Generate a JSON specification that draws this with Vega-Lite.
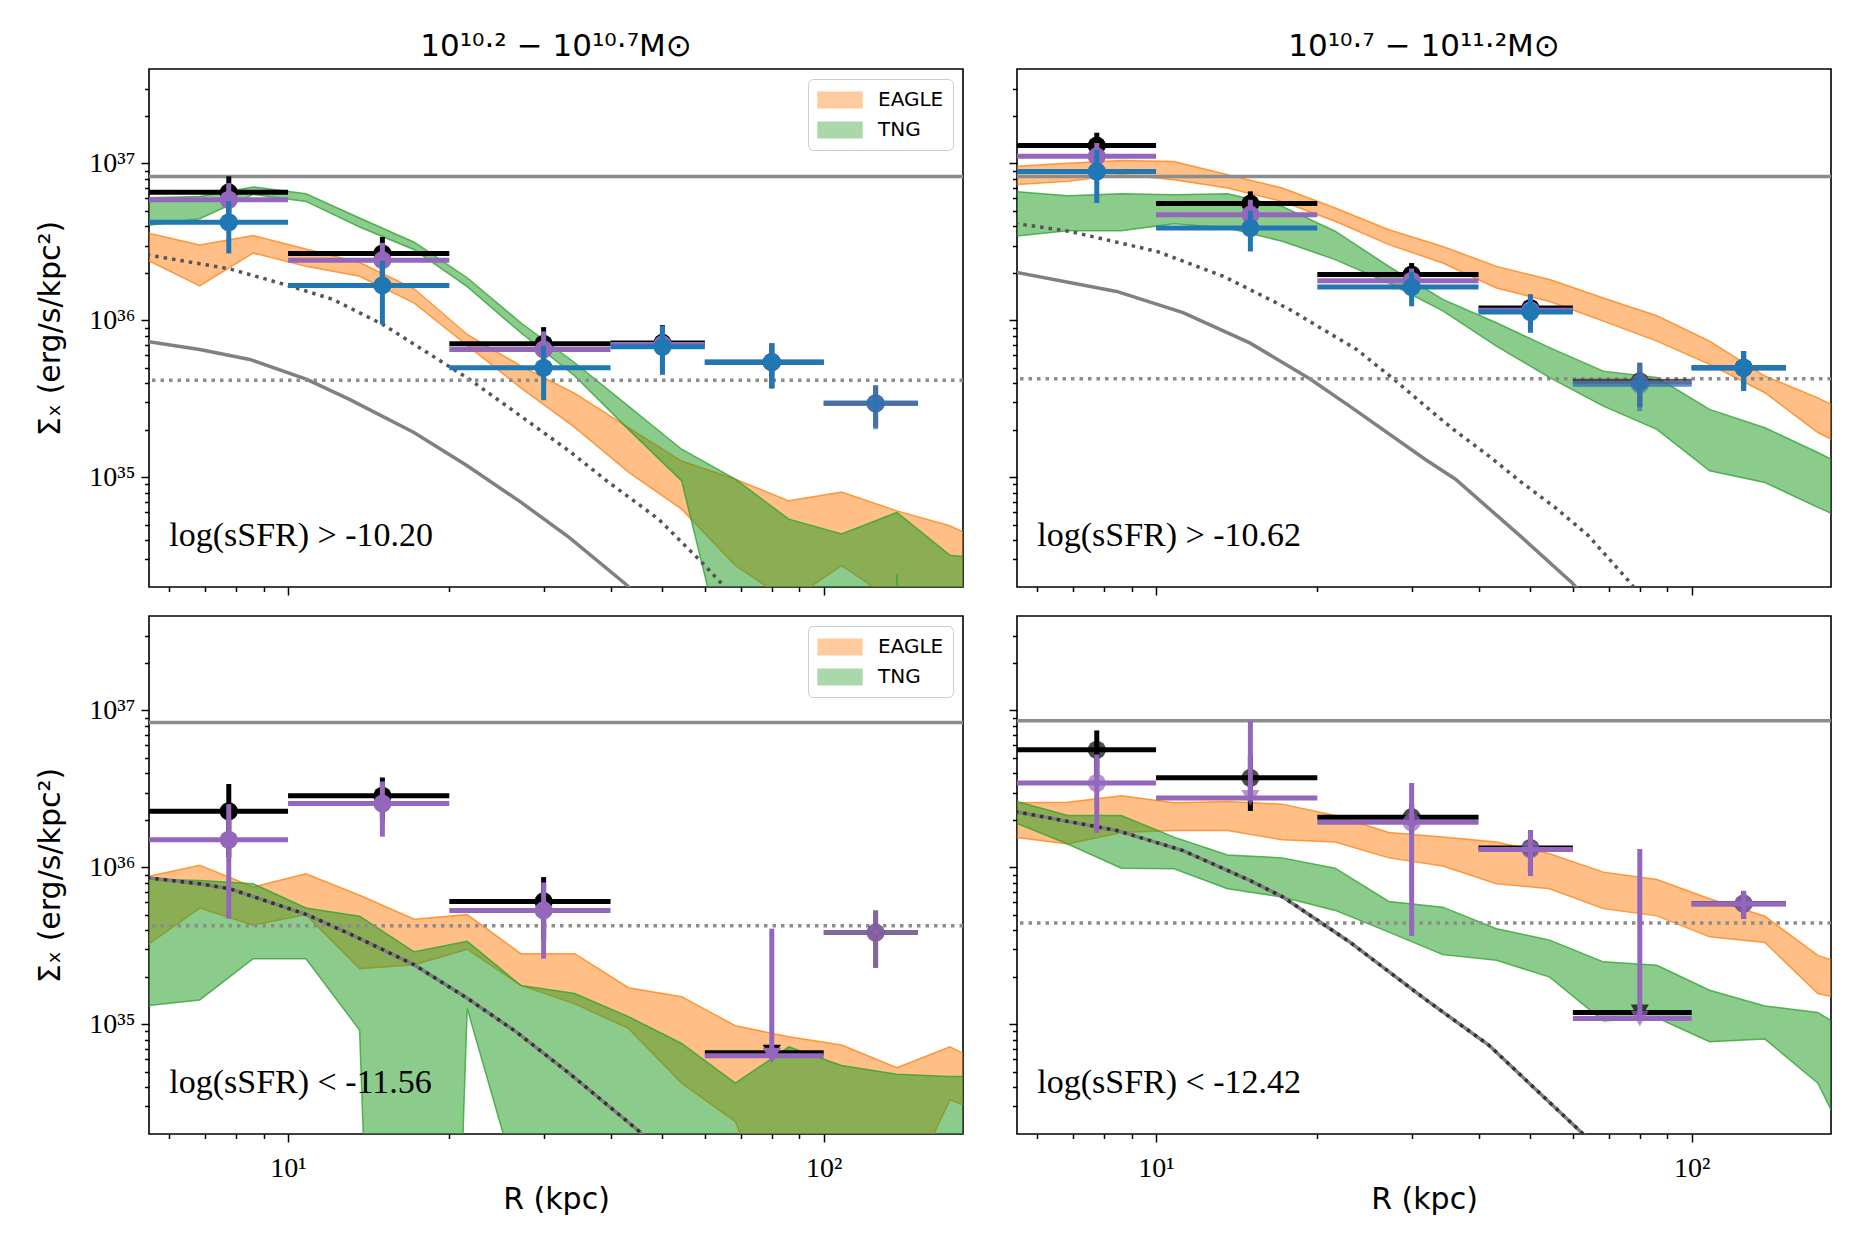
{
  "$schema": "https://vega.github.io/schema/vega-lite/v6.json",
  "background": "white",
  "padding": {"left": 35, "top": 30, "right": 5, "bottom": 5},
  "datasets": {
    "bands": [
      {"panel": "TL", "sim": "EAGLE", "r": 5.43, "lo": 2.45e36, "hi": 3.63e36},
      {"panel": "TL", "sim": "EAGLE", "r": 6.84, "lo": 1.66e36, "hi": 3.02e36},
      {"panel": "TL", "sim": "EAGLE", "r": 8.61, "lo": 2.69e36, "hi": 3.47e36},
      {"panel": "TL", "sim": "EAGLE", "r": 10.8, "lo": 2.21e36, "hi": 2.85e36},
      {"panel": "TL", "sim": "EAGLE", "r": 13.6, "lo": 1.91e36, "hi": 2.34e36},
      {"panel": "TL", "sim": "EAGLE", "r": 17.2, "lo": 1.29e36, "hi": 1.59e36},
      {"panel": "TL", "sim": "EAGLE", "r": 21.6, "lo": 6.92e35, "hi": 8.13e35},
      {"panel": "TL", "sim": "EAGLE", "r": 27.2, "lo": 3.72e35, "hi": 5.13e35},
      {"panel": "TL", "sim": "EAGLE", "r": 34.3, "lo": 2.08e35, "hi": 3.43e35},
      {"panel": "TL", "sim": "EAGLE", "r": 43.2, "lo": 1.08e35, "hi": 2.07e35},
      {"panel": "TL", "sim": "EAGLE", "r": 54.3, "lo": 6.27e34, "hi": 1.27e35},
      {"panel": "TL", "sim": "EAGLE", "r": 68.4, "lo": 2.74e34, "hi": 9.73e34},
      {"panel": "TL", "sim": "EAGLE", "r": 86.1, "lo": 1.62e34, "hi": 7.08e34},
      {"panel": "TL", "sim": "EAGLE", "r": 108, "lo": 2.74e34, "hi": 8.07e34},
      {"panel": "TL", "sim": "EAGLE", "r": 137, "lo": 1.58e34, "hi": 6.11e34},
      {"panel": "TL", "sim": "EAGLE", "r": 172, "lo": 1.0e34, "hi": 4.91e34},
      {"panel": "TL", "sim": "EAGLE", "r": 216, "lo": 1.0e34, "hi": 3.4e34},
      {"panel": "TL", "sim": "TNG", "r": 5.43, "lo": 4.02e36, "hi": 6.03e36},
      {"panel": "TL", "sim": "TNG", "r": 6.84, "lo": 4.45e36, "hi": 6.17e36},
      {"panel": "TL", "sim": "TNG", "r": 8.61, "lo": 6.35e36, "hi": 7.08e36},
      {"panel": "TL", "sim": "TNG", "r": 10.8, "lo": 5.73e36, "hi": 6.41e36},
      {"panel": "TL", "sim": "TNG", "r": 13.6, "lo": 3.94e36, "hi": 4.49e36},
      {"panel": "TL", "sim": "TNG", "r": 17.2, "lo": 2.82e36, "hi": 3.15e36},
      {"panel": "TL", "sim": "TNG", "r": 21.6, "lo": 1.64e36, "hi": 1.87e36},
      {"panel": "TL", "sim": "TNG", "r": 27.2, "lo": 8.34e35, "hi": 9.66e35},
      {"panel": "TL", "sim": "TNG", "r": 34.3, "lo": 4.42e35, "hi": 5.37e35},
      {"panel": "TL", "sim": "TNG", "r": 43.2, "lo": 2.02e35, "hi": 2.84e35},
      {"panel": "TL", "sim": "TNG", "r": 54.3, "lo": 9.48e34, "hi": 1.51e35},
      {"panel": "TL", "sim": "TNG", "r": 68.4, "lo": 3.8e33, "hi": 9.73e34},
      {"panel": "TL", "sim": "TNG", "r": 86.1, "lo": 1e25, "hi": 5.41e34},
      {"panel": "TL", "sim": "TNG", "r": 108, "lo": 1e25, "hi": 4.35e34},
      {"panel": "TL", "sim": "TNG", "r": 137, "lo": 2.42e34, "hi": 5.97e34},
      {"panel": "TL", "sim": "TNG", "r": 172, "lo": 1e25, "hi": 3.19e34},
      {"panel": "TL", "sim": "TNG", "r": 216, "lo": 1e25, "hi": 2.94e34},
      {"panel": "TR", "sim": "EAGLE", "r": 5.43, "lo": 7.33e36, "hi": 9.57e36},
      {"panel": "TR", "sim": "EAGLE", "r": 6.84, "lo": 7.69e36, "hi": 1.005e37},
      {"panel": "TR", "sim": "EAGLE", "r": 8.61, "lo": 8.47e36, "hi": 1.045e37},
      {"panel": "TR", "sim": "EAGLE", "r": 10.8, "lo": 7.87e36, "hi": 1.03e37},
      {"panel": "TR", "sim": "EAGLE", "r": 13.6, "lo": 6.97e36, "hi": 8.47e36},
      {"panel": "TR", "sim": "EAGLE", "r": 17.2, "lo": 5.73e36, "hi": 6.97e36},
      {"panel": "TR", "sim": "EAGLE", "r": 21.6, "lo": 4.28e36, "hi": 5.2e36},
      {"panel": "TR", "sim": "EAGLE", "r": 27.2, "lo": 3.04e36, "hi": 3.78e36},
      {"panel": "TR", "sim": "EAGLE", "r": 34.3, "lo": 2.32e36, "hi": 2.96e36},
      {"panel": "TR", "sim": "EAGLE", "r": 43.2, "lo": 1.61e36, "hi": 2.21e36},
      {"panel": "TR", "sim": "EAGLE", "r": 54.3, "lo": 1.32e36, "hi": 1.82e36},
      {"panel": "TR", "sim": "EAGLE", "r": 68.4, "lo": 9.89e35, "hi": 1.39e36},
      {"panel": "TR", "sim": "EAGLE", "r": 86.1, "lo": 7.38e35, "hi": 1.07e36},
      {"panel": "TR", "sim": "EAGLE", "r": 108, "lo": 5.24e35, "hi": 7.38e35},
      {"panel": "TR", "sim": "EAGLE", "r": 137, "lo": 3.46e35, "hi": 4.42e35},
      {"panel": "TR", "sim": "EAGLE", "r": 172, "lo": 1.93e35, "hi": 3.21e35},
      {"panel": "TR", "sim": "EAGLE", "r": 216, "lo": 1.3e35, "hi": 2.18e35},
      {"panel": "TR", "sim": "TNG", "r": 5.43, "lo": 3.44e36, "hi": 6.64e36},
      {"panel": "TR", "sim": "TNG", "r": 6.84, "lo": 3.73e36, "hi": 6.22e36},
      {"panel": "TR", "sim": "TNG", "r": 8.61, "lo": 3.73e36, "hi": 6.41e36},
      {"panel": "TR", "sim": "TNG", "r": 10.8, "lo": 4.13e36, "hi": 6.32e36},
      {"panel": "TR", "sim": "TNG", "r": 13.6, "lo": 3.88e36, "hi": 6.41e36},
      {"panel": "TR", "sim": "TNG", "r": 17.2, "lo": 3.19e36, "hi": 5.33e36},
      {"panel": "TR", "sim": "TNG", "r": 21.6, "lo": 2.44e36, "hi": 3.7e36},
      {"panel": "TR", "sim": "TNG", "r": 27.2, "lo": 1.73e36, "hi": 2.21e36},
      {"panel": "TR", "sim": "TNG", "r": 34.3, "lo": 1.15e36, "hi": 1.36e36},
      {"panel": "TR", "sim": "TNG", "r": 43.2, "lo": 6.85e35, "hi": 9.66e35},
      {"panel": "TR", "sim": "TNG", "r": 54.3, "lo": 4.32e35, "hi": 6.7e35},
      {"panel": "TR", "sim": "TNG", "r": 68.4, "lo": 2.84e35, "hi": 4.75e35},
      {"panel": "TR", "sim": "TNG", "r": 86.1, "lo": 2.02e35, "hi": 4.32e35},
      {"panel": "TR", "sim": "TNG", "r": 108, "lo": 1.1e35, "hi": 2.71e35},
      {"panel": "TR", "sim": "TNG", "r": 137, "lo": 9.27e34, "hi": 2.07e35},
      {"panel": "TR", "sim": "TNG", "r": 172, "lo": 6.43e34, "hi": 1.44e35},
      {"panel": "TR", "sim": "TNG", "r": 216, "lo": 4.56e34, "hi": 9.73e34},
      {"panel": "BL", "sim": "EAGLE", "r": 5.43, "lo": 3.16e35, "hi": 8.71e35},
      {"panel": "BL", "sim": "EAGLE", "r": 6.84, "lo": 5.51e35, "hi": 1.03e36},
      {"panel": "BL", "sim": "EAGLE", "r": 8.61, "lo": 4.28e35, "hi": 7.5e35},
      {"panel": "BL", "sim": "EAGLE", "r": 10.8, "lo": 5.0e35, "hi": 9.1e35},
      {"panel": "BL", "sim": "EAGLE", "r": 13.6, "lo": 2.26e35, "hi": 6.64e35},
      {"panel": "BL", "sim": "EAGLE", "r": 17.2, "lo": 2.4e35, "hi": 4.68e35},
      {"panel": "BL", "sim": "EAGLE", "r": 21.6, "lo": 3.01e35, "hi": 5.0e35},
      {"panel": "BL", "sim": "EAGLE", "r": 27.2, "lo": 1.77e35, "hi": 2.82e35},
      {"panel": "BL", "sim": "EAGLE", "r": 34.3, "lo": 1.35e35, "hi": 2.82e35},
      {"panel": "BL", "sim": "EAGLE", "r": 43.2, "lo": 9.42e34, "hi": 1.71e35},
      {"panel": "BL", "sim": "EAGLE", "r": 54.3, "lo": 4.22e34, "hi": 1.5e35},
      {"panel": "BL", "sim": "EAGLE", "r": 68.4, "lo": 2.4e34, "hi": 9.79e34},
      {"panel": "BL", "sim": "EAGLE", "r": 86.1, "lo": 3.16e33, "hi": 8.34e34},
      {"panel": "BL", "sim": "EAGLE", "r": 108, "lo": 3.16e33, "hi": 7.38e34},
      {"panel": "BL", "sim": "EAGLE", "r": 137, "lo": 6.31e33, "hi": 5.3e34},
      {"panel": "BL", "sim": "EAGLE", "r": 172, "lo": 3.3e34, "hi": 7.19e34},
      {"panel": "BL", "sim": "EAGLE", "r": 216, "lo": 2.45e34, "hi": 4.92e34},
      {"panel": "BL", "sim": "TNG", "r": 5.43, "lo": 1.31e35, "hi": 8.45e35},
      {"panel": "BL", "sim": "TNG", "r": 6.84, "lo": 1.43e35, "hi": 8.26e35},
      {"panel": "BL", "sim": "TNG", "r": 8.61, "lo": 2.62e35, "hi": 7.87e35},
      {"panel": "BL", "sim": "TNG", "r": 10.8, "lo": 2.62e35, "hi": 5.51e35},
      {"panel": "BL", "sim": "TNG", "r": 13.6, "lo": 9.18e34, "hi": 4.88e35},
      {"panel": "BL", "sim": "TNG", "r": 17.2, "lo": 1e25, "hi": 2.9e35},
      {"panel": "BL", "sim": "TNG", "r": 21.6, "lo": 1.26e35, "hi": 3.38e35},
      {"panel": "BL", "sim": "TNG", "r": 27.2, "lo": 8.13e33, "hi": 1.77e35},
      {"panel": "BL", "sim": "TNG", "r": 34.3, "lo": 1e25, "hi": 1.57e35},
      {"panel": "BL", "sim": "TNG", "r": 43.2, "lo": 1e25, "hi": 1.12e35},
      {"panel": "BL", "sim": "TNG", "r": 54.3, "lo": 1e25, "hi": 7.55e34},
      {"panel": "BL", "sim": "TNG", "r": 68.4, "lo": 1e25, "hi": 4.22e34},
      {"panel": "BL", "sim": "TNG", "r": 86.1, "lo": 1e25, "hi": 7.19e34},
      {"panel": "BL", "sim": "TNG", "r": 108, "lo": 1e25, "hi": 5.46e34},
      {"panel": "BL", "sim": "TNG", "r": 137, "lo": 1e25, "hi": 4.81e34},
      {"panel": "BL", "sim": "TNG", "r": 172, "lo": 1e25, "hi": 4.65e34},
      {"panel": "BL", "sim": "TNG", "r": 216, "lo": 1e25, "hi": 4.65e34},
      {"panel": "BR", "sim": "EAGLE", "r": 5.43, "lo": 1.56e36, "hi": 2.58e36},
      {"panel": "BR", "sim": "EAGLE", "r": 6.84, "lo": 1.41e36, "hi": 2.6e36},
      {"panel": "BR", "sim": "EAGLE", "r": 8.61, "lo": 1.67e36, "hi": 2.86e36},
      {"panel": "BR", "sim": "EAGLE", "r": 10.8, "lo": 1.72e36, "hi": 2.58e36},
      {"panel": "BR", "sim": "EAGLE", "r": 13.6, "lo": 1.72e36, "hi": 2.63e36},
      {"panel": "BR", "sim": "EAGLE", "r": 17.2, "lo": 1.5e36, "hi": 2.53e36},
      {"panel": "BR", "sim": "EAGLE", "r": 21.6, "lo": 1.45e36, "hi": 2.14e36},
      {"panel": "BR", "sim": "EAGLE", "r": 27.2, "lo": 1.15e36, "hi": 1.67e36},
      {"panel": "BR", "sim": "EAGLE", "r": 34.3, "lo": 1.02e36, "hi": 1.56e36},
      {"panel": "BR", "sim": "EAGLE", "r": 43.2, "lo": 7.87e35, "hi": 1.45e36},
      {"panel": "BR", "sim": "EAGLE", "r": 54.3, "lo": 7.31e35, "hi": 1.22e36},
      {"panel": "BR", "sim": "EAGLE", "r": 68.4, "lo": 5.46e35, "hi": 9.33e35},
      {"panel": "BR", "sim": "EAGLE", "r": 86.1, "lo": 4.91e35, "hi": 8.38e35},
      {"panel": "BR", "sim": "EAGLE", "r": 108, "lo": 3.61e35, "hi": 6.31e35},
      {"panel": "BR", "sim": "EAGLE", "r": 137, "lo": 3.32e35, "hi": 4.88e35},
      {"panel": "BR", "sim": "EAGLE", "r": 172, "lo": 1.57e35, "hi": 2.75e35},
      {"panel": "BR", "sim": "EAGLE", "r": 216, "lo": 1.32e35, "hi": 2.12e35},
      {"panel": "BR", "sim": "TNG", "r": 5.43, "lo": 1.94e36, "hi": 2.66e36},
      {"panel": "BR", "sim": "TNG", "r": 6.84, "lo": 1.41e36, "hi": 2.14e36},
      {"panel": "BR", "sim": "TNG", "r": 8.61, "lo": 9.89e35, "hi": 2.14e36},
      {"panel": "BR", "sim": "TNG", "r": 10.8, "lo": 9.79e35, "hi": 1.56e36},
      {"panel": "BR", "sim": "TNG", "r": 13.6, "lo": 7.31e35, "hi": 1.2e36},
      {"panel": "BR", "sim": "TNG", "r": 17.2, "lo": 6.47e35, "hi": 1.15e36},
      {"panel": "BR", "sim": "TNG", "r": 21.6, "lo": 5.32e35, "hi": 9.89e35},
      {"panel": "BR", "sim": "TNG", "r": 27.2, "lo": 3.87e35, "hi": 6.07e35},
      {"panel": "BR", "sim": "TNG", "r": 34.3, "lo": 2.78e35, "hi": 5.58e35},
      {"panel": "BR", "sim": "TNG", "r": 43.2, "lo": 2.56e35, "hi": 4.07e35},
      {"panel": "BR", "sim": "TNG", "r": 54.3, "lo": 2.0e35, "hi": 3.44e35},
      {"panel": "BR", "sim": "TNG", "r": 68.4, "lo": 1.05e35, "hi": 2.5e35},
      {"panel": "BR", "sim": "TNG", "r": 86.1, "lo": 1.1e35, "hi": 2.38e35},
      {"panel": "BR", "sim": "TNG", "r": 108, "lo": 7.74e34, "hi": 1.65e35},
      {"panel": "BR", "sim": "TNG", "r": 137, "lo": 8.05e34, "hi": 1.31e35},
      {"panel": "BR", "sim": "TNG", "r": 172, "lo": 4.22e34, "hi": 1.19e35},
      {"panel": "BR", "sim": "TNG", "r": 216, "lo": 8.75e33, "hi": 7.35e34}
    ],
    "curves": [
      {"panel": "TL", "kind": "solid", "r": 5.45, "s": 7.35e35},
      {"panel": "TL", "kind": "solid", "r": 6.84, "s": 6.53e35},
      {"panel": "TL", "kind": "solid", "r": 8.48, "s": 5.64e35},
      {"panel": "TL", "kind": "solid", "r": 10.84, "s": 4.21e35},
      {"panel": "TL", "kind": "solid", "r": 13.02, "s": 3.14e35},
      {"panel": "TL", "kind": "solid", "r": 17.18, "s": 1.93e35},
      {"panel": "TL", "kind": "solid", "r": 21.64, "s": 1.18e35},
      {"panel": "TL", "kind": "solid", "r": 27.24, "s": 6.92e34},
      {"panel": "TL", "kind": "solid", "r": 33.47, "s": 4.14e34},
      {"panel": "TL", "kind": "solid", "r": 42.66, "s": 2.09e34},
      {"panel": "TL", "kind": "solid", "r": 50.1, "s": 1.26e34},
      {"panel": "TL", "kind": "dotted", "r": 5.45, "s": 2.62e36},
      {"panel": "TL", "kind": "dotted", "r": 7.78, "s": 2.13e36},
      {"panel": "TL", "kind": "dotted", "r": 10.0, "s": 1.67e36},
      {"panel": "TL", "kind": "dotted", "r": 12.13, "s": 1.36e36},
      {"panel": "TL", "kind": "dotted", "r": 15.03, "s": 9.42e35},
      {"panel": "TL", "kind": "dotted", "r": 18.63, "s": 5.92e35},
      {"panel": "TL", "kind": "dotted", "r": 21.81, "s": 4.21e35},
      {"panel": "TL", "kind": "dotted", "r": 26.65, "s": 2.58e35},
      {"panel": "TL", "kind": "dotted", "r": 33.48, "s": 1.47e35},
      {"panel": "TL", "kind": "dotted", "r": 39.72, "s": 9.27e34},
      {"panel": "TL", "kind": "dotted", "r": 49.2, "s": 5.41e34},
      {"panel": "TL", "kind": "dotted", "r": 59.29, "s": 2.86e34},
      {"panel": "TL", "kind": "dotted", "r": 64.57, "s": 2.09e34},
      {"panel": "TL", "kind": "dotted", "r": 74.1, "s": 1.26e34},
      {"panel": "TR", "kind": "solid", "r": 5.45, "s": 2.03e36},
      {"panel": "TR", "kind": "solid", "r": 8.44, "s": 1.53e36},
      {"panel": "TR", "kind": "solid", "r": 11.23, "s": 1.12e36},
      {"panel": "TR", "kind": "solid", "r": 14.96, "s": 7.19e35},
      {"panel": "TR", "kind": "solid", "r": 19.36, "s": 4.25e35},
      {"panel": "TR", "kind": "solid", "r": 22.98, "s": 2.84e35},
      {"panel": "TR", "kind": "solid", "r": 31.93, "s": 1.29e35},
      {"panel": "TR", "kind": "solid", "r": 36.23, "s": 9.73e34},
      {"panel": "TR", "kind": "solid", "r": 48.19, "s": 4.14e34},
      {"panel": "TR", "kind": "solid", "r": 59.7, "s": 2.14e34},
      {"panel": "TR", "kind": "solid", "r": 70.8, "s": 1.12e34},
      {"panel": "TR", "kind": "dotted", "r": 5.45, "s": 4.15e36},
      {"panel": "TR", "kind": "dotted", "r": 6.91, "s": 3.69e36},
      {"panel": "TR", "kind": "dotted", "r": 10.04, "s": 2.75e36},
      {"panel": "TR", "kind": "dotted", "r": 13.36, "s": 1.91e36},
      {"panel": "TR", "kind": "dotted", "r": 17.79, "s": 1.17e36},
      {"panel": "TR", "kind": "dotted", "r": 23.68, "s": 6.53e35},
      {"panel": "TR", "kind": "dotted", "r": 27.72, "s": 4.25e35},
      {"panel": "TR", "kind": "dotted", "r": 32.91, "s": 2.58e35},
      {"panel": "TR", "kind": "dotted", "r": 36.23, "s": 1.97e35},
      {"panel": "TR", "kind": "dotted", "r": 41.78, "s": 1.37e35},
      {"panel": "TR", "kind": "dotted", "r": 48.19, "s": 9.25e34},
      {"panel": "TR", "kind": "dotted", "r": 55.62, "s": 6.41e34},
      {"panel": "TR", "kind": "dotted", "r": 64.16, "s": 4.24e34},
      {"panel": "TR", "kind": "dotted", "r": 76.15, "s": 2.2e34},
      {"panel": "TR", "kind": "dotted", "r": 89.1, "s": 1.12e34},
      {"panel": "BL", "kind": "solid", "r": 5.45, "s": 8.6e35},
      {"panel": "BL", "kind": "solid", "r": 6.84, "s": 7.87e35},
      {"panel": "BL", "kind": "solid", "r": 7.78, "s": 7.31e35},
      {"panel": "BL", "kind": "solid", "r": 10.84, "s": 5.0e35},
      {"panel": "BL", "kind": "solid", "r": 13.02, "s": 3.78e35},
      {"panel": "BL", "kind": "solid", "r": 17.18, "s": 2.4e35},
      {"panel": "BL", "kind": "solid", "r": 21.64, "s": 1.46e35},
      {"panel": "BL", "kind": "solid", "r": 26.63, "s": 8.98e34},
      {"panel": "BL", "kind": "solid", "r": 33.47, "s": 4.88e34},
      {"panel": "BL", "kind": "solid", "r": 44.87, "s": 2.13e34},
      {"panel": "BL", "kind": "solid", "r": 52.5, "s": 1.32e34},
      {"panel": "BL", "kind": "dotted", "r": 5.45, "s": 8.6e35},
      {"panel": "BL", "kind": "dotted", "r": 6.84, "s": 7.87e35},
      {"panel": "BL", "kind": "dotted", "r": 7.78, "s": 7.31e35},
      {"panel": "BL", "kind": "dotted", "r": 10.84, "s": 5.0e35},
      {"panel": "BL", "kind": "dotted", "r": 13.02, "s": 3.78e35},
      {"panel": "BL", "kind": "dotted", "r": 17.18, "s": 2.4e35},
      {"panel": "BL", "kind": "dotted", "r": 21.64, "s": 1.46e35},
      {"panel": "BL", "kind": "dotted", "r": 26.63, "s": 8.98e34},
      {"panel": "BL", "kind": "dotted", "r": 33.47, "s": 4.88e34},
      {"panel": "BL", "kind": "dotted", "r": 44.87, "s": 2.13e34},
      {"panel": "BL", "kind": "dotted", "r": 52.5, "s": 1.32e34},
      {"panel": "BR", "kind": "solid", "r": 5.45, "s": 2.27e36},
      {"panel": "BR", "kind": "solid", "r": 8.44, "s": 1.72e36},
      {"panel": "BR", "kind": "solid", "r": 11.23, "s": 1.28e36},
      {"panel": "BR", "kind": "solid", "r": 14.96, "s": 8.26e35},
      {"panel": "BR", "kind": "solid", "r": 17.26, "s": 6.47e35},
      {"panel": "BR", "kind": "solid", "r": 22.98, "s": 3.35e35},
      {"panel": "BR", "kind": "solid", "r": 31.93, "s": 1.43e35},
      {"panel": "BR", "kind": "solid", "r": 41.78, "s": 7.38e34},
      {"panel": "BR", "kind": "solid", "r": 61.5, "s": 2.13e34},
      {"panel": "BR", "kind": "solid", "r": 72.4, "s": 1.26e34},
      {"panel": "BR", "kind": "dotted", "r": 5.45, "s": 2.27e36},
      {"panel": "BR", "kind": "dotted", "r": 8.44, "s": 1.72e36},
      {"panel": "BR", "kind": "dotted", "r": 11.23, "s": 1.28e36},
      {"panel": "BR", "kind": "dotted", "r": 14.96, "s": 8.26e35},
      {"panel": "BR", "kind": "dotted", "r": 17.26, "s": 6.47e35},
      {"panel": "BR", "kind": "dotted", "r": 22.98, "s": 3.35e35},
      {"panel": "BR", "kind": "dotted", "r": 31.93, "s": 1.43e35},
      {"panel": "BR", "kind": "dotted", "r": 41.78, "s": 7.38e34},
      {"panel": "BR", "kind": "dotted", "r": 61.5, "s": 2.13e34},
      {"panel": "BR", "kind": "dotted", "r": 72.4, "s": 1.26e34}
    ],
    "hlines": [
      {"panel": "TL", "kind": "solid", "s": 8.26e36},
      {"panel": "TL", "kind": "dotted", "s": 4.15e35},
      {"panel": "TR", "kind": "solid", "s": 8.26e36},
      {"panel": "TR", "kind": "dotted", "s": 4.25e35},
      {"panel": "BL", "kind": "solid", "s": 8.39e36},
      {"panel": "BL", "kind": "dotted", "s": 4.24e35},
      {"panel": "BR", "kind": "solid", "s": 8.59e36},
      {"panel": "BR", "kind": "dotted", "s": 4.43e35}
    ],
    "pts": [
      {"panel": "TL", "ser": "black", "r": 7.75, "xlo": 5.5, "xhi": 10, "s": 6.55e36, "elo": 4.82e36, "ehi": 8.28e36, "lim": false},
      {"panel": "TL", "ser": "black", "r": 15, "xlo": 10, "xhi": 20, "s": 2.67e36, "elo": 1.94e36, "ehi": 3.4e36, "lim": false},
      {"panel": "TL", "ser": "black", "r": 30, "xlo": 20, "xhi": 40, "s": 7.1e35, "elo": 5.14e35, "ehi": 9.06e35, "lim": false},
      {"panel": "TL", "ser": "black", "r": 50, "xlo": 40, "xhi": 60, "s": 7.19e35, "elo": 5.05e35, "ehi": 9.33e35, "lim": false},
      {"panel": "TL", "ser": "black", "r": 80, "xlo": 60, "xhi": 100, "s": 5.42e35, "elo": 3.71e35, "ehi": 7.13e35, "lim": false},
      {"panel": "TL", "ser": "black", "r": 125, "xlo": 100, "xhi": 150, "s": 2.96e35, "elo": 2.07e35, "ehi": 3.85e35, "lim": false},
      {"panel": "TL", "ser": "purple", "r": 7.75, "xlo": 5.5, "xhi": 10, "s": 5.87e36, "elo": 4.24e36, "ehi": 7.5e36, "lim": false},
      {"panel": "TL", "ser": "purple", "r": 15, "xlo": 10, "xhi": 20, "s": 2.42e36, "elo": 1.72e36, "ehi": 3.12e36, "lim": false},
      {"panel": "TL", "ser": "purple", "r": 30, "xlo": 20, "xhi": 40, "s": 6.53e35, "elo": 4.55e35, "ehi": 8.51e35, "lim": false},
      {"panel": "TL", "ser": "purple", "r": 50, "xlo": 40, "xhi": 60, "s": 7.03e35, "elo": 4.83e35, "ehi": 9.23e35, "lim": false},
      {"panel": "TL", "ser": "purple", "r": 80, "xlo": 60, "xhi": 100, "s": 5.42e35, "elo": 3.71e35, "ehi": 7.13e35, "lim": false},
      {"panel": "TL", "ser": "purple", "r": 125, "xlo": 100, "xhi": 150, "s": 2.96e35, "elo": 2.07e35, "ehi": 3.85e35, "lim": false},
      {"panel": "TL", "ser": "blue", "r": 7.75, "xlo": 5.5, "xhi": 10, "s": 4.22e36, "elo": 2.67e36, "ehi": 5.77e36, "lim": false},
      {"panel": "TL", "ser": "blue", "r": 15, "xlo": 10, "xhi": 20, "s": 1.67e36, "elo": 9.42e35, "ehi": 2.4e36, "lim": false},
      {"panel": "TL", "ser": "blue", "r": 30, "xlo": 20, "xhi": 40, "s": 4.99e35, "elo": 3.1e35, "ehi": 6.88e35, "lim": false},
      {"panel": "TL", "ser": "blue", "r": 50, "xlo": 40, "xhi": 60, "s": 6.79e35, "elo": 4.5e35, "ehi": 9.2e35, "lim": false},
      {"panel": "TL", "ser": "blue", "r": 80, "xlo": 60, "xhi": 100, "s": 5.42e35, "elo": 3.67e35, "ehi": 7.13e35, "lim": false},
      {"panel": "TL", "ser": "blue", "r": 125, "xlo": 100, "xhi": 150, "s": 2.96e35, "elo": 2.02e35, "ehi": 3.85e35, "lim": false},
      {"panel": "TR", "ser": "black", "r": 7.75, "xlo": 5.5, "xhi": 10, "s": 1.3e37, "elo": 1.03e37, "ehi": 1.57e37, "lim": false},
      {"panel": "TR", "ser": "black", "r": 15, "xlo": 10, "xhi": 20, "s": 5.55e36, "elo": 4.46e36, "ehi": 6.64e36, "lim": false},
      {"panel": "TR", "ser": "black", "r": 30, "xlo": 20, "xhi": 40, "s": 1.96e36, "elo": 1.6e36, "ehi": 2.32e36, "lim": false},
      {"panel": "TR", "ser": "black", "r": 50, "xlo": 40, "xhi": 60, "s": 1.2e36, "elo": 9.4e35, "ehi": 1.46e36, "lim": false},
      {"panel": "TR", "ser": "black", "r": 80, "xlo": 60, "xhi": 100, "s": 4.1e35, "elo": 2.83e35, "ehi": 5.37e35, "lim": false},
      {"panel": "TR", "ser": "black", "r": 125, "xlo": 100, "xhi": 150, "s": 4.99e35, "elo": 3.61e35, "ehi": 6.37e35, "lim": false},
      {"panel": "TR", "ser": "purple", "r": 7.75, "xlo": 5.5, "xhi": 10, "s": 1.11e37, "elo": 8.7e36, "ehi": 1.35e37, "lim": false},
      {"panel": "TR", "ser": "purple", "r": 15, "xlo": 10, "xhi": 20, "s": 4.72e36, "elo": 3.57e36, "ehi": 5.87e36, "lim": false},
      {"panel": "TR", "ser": "purple", "r": 30, "xlo": 20, "xhi": 40, "s": 1.79e36, "elo": 1.44e36, "ehi": 2.14e36, "lim": false},
      {"panel": "TR", "ser": "purple", "r": 50, "xlo": 40, "xhi": 60, "s": 1.16e36, "elo": 9.0e35, "ehi": 1.42e36, "lim": false},
      {"panel": "TR", "ser": "purple", "r": 80, "xlo": 60, "xhi": 100, "s": 3.98e35, "elo": 2.76e35, "ehi": 5.2e35, "lim": false},
      {"panel": "TR", "ser": "purple", "r": 125, "xlo": 100, "xhi": 150, "s": 4.99e35, "elo": 3.61e35, "ehi": 6.37e35, "lim": false},
      {"panel": "TR", "ser": "blue", "r": 7.75, "xlo": 5.5, "xhi": 10, "s": 8.89e36, "elo": 5.6e36, "ehi": 1.22e37, "lim": false},
      {"panel": "TR", "ser": "blue", "r": 15, "xlo": 10, "xhi": 20, "s": 3.88e36, "elo": 2.75e36, "ehi": 5.01e36, "lim": false},
      {"panel": "TR", "ser": "blue", "r": 30, "xlo": 20, "xhi": 40, "s": 1.63e36, "elo": 1.23e36, "ehi": 2.03e36, "lim": false},
      {"panel": "TR", "ser": "blue", "r": 50, "xlo": 40, "xhi": 60, "s": 1.13e36, "elo": 8.34e35, "ehi": 1.46e36, "lim": false},
      {"panel": "TR", "ser": "blue", "r": 80, "xlo": 60, "xhi": 100, "s": 3.91e35, "elo": 2.64e35, "ehi": 5.37e35, "lim": false},
      {"panel": "TR", "ser": "blue", "r": 125, "xlo": 100, "xhi": 150, "s": 4.99e35, "elo": 3.55e35, "ehi": 6.37e35, "lim": false},
      {"panel": "BL", "ser": "black", "r": 7.75, "xlo": 5.5, "xhi": 10, "s": 2.28e36, "elo": 1.16e36, "ehi": 3.4e36, "lim": false},
      {"panel": "BL", "ser": "black", "r": 15, "xlo": 10, "xhi": 20, "s": 2.86e36, "elo": 1.98e36, "ehi": 3.74e36, "lim": false},
      {"panel": "BL", "ser": "black", "r": 30, "xlo": 20, "xhi": 40, "s": 6.07e35, "elo": 3.47e35, "ehi": 8.67e35, "lim": false},
      {"panel": "BL", "ser": "black", "r": 80, "xlo": 60, "xhi": 100, "s": 6.59e34, "elo": 6.59e34, "ehi": 6.59e34, "lim": true},
      {"panel": "BL", "ser": "black", "r": 125, "xlo": 100, "xhi": 150, "s": 3.84e35, "elo": 2.29e35, "ehi": 5.32e35, "lim": false},
      {"panel": "BL", "ser": "purple", "r": 7.75, "xlo": 5.5, "xhi": 10, "s": 1.5e36, "elo": 4.71e35, "ehi": 2.53e36, "lim": false},
      {"panel": "BL", "ser": "purple", "r": 15, "xlo": 10, "xhi": 20, "s": 2.55e36, "elo": 1.57e36, "ehi": 3.53e36, "lim": false},
      {"panel": "BL", "ser": "purple", "r": 30, "xlo": 20, "xhi": 40, "s": 5.32e35, "elo": 2.62e35, "ehi": 8.02e35, "lim": false},
      {"panel": "BL", "ser": "purple", "r": 80, "xlo": 60, "xhi": 100, "s": 6.31e34, "elo": 6.31e34, "ehi": 4.07e35, "lim": true},
      {"panel": "BL", "ser": "purple", "r": 125, "xlo": 100, "xhi": 150, "s": 3.84e35, "elo": 2.29e35, "ehi": 5.32e35, "lim": false},
      {"panel": "BR", "ser": "black", "r": 7.75, "xlo": 5.5, "xhi": 10, "s": 5.62e36, "elo": 3.78e36, "ehi": 7.46e36, "lim": false},
      {"panel": "BR", "ser": "black", "r": 15, "xlo": 10, "xhi": 20, "s": 3.72e36, "elo": 2.29e36, "ehi": 5.15e36, "lim": false},
      {"panel": "BR", "ser": "black", "r": 30, "xlo": 20, "xhi": 40, "s": 2.09e36, "elo": 1.64e36, "ehi": 2.54e36, "lim": false},
      {"panel": "BR", "ser": "black", "r": 50, "xlo": 40, "xhi": 60, "s": 1.33e36, "elo": 9.4e35, "ehi": 1.72e36, "lim": false},
      {"panel": "BR", "ser": "black", "r": 80, "xlo": 60, "xhi": 100, "s": 1.19e35, "elo": 1.19e35, "ehi": 1.19e35, "lim": true},
      {"panel": "BR", "ser": "black", "r": 125, "xlo": 100, "xhi": 150, "s": 5.87e35, "elo": 4.72e35, "ehi": 7.08e35, "lim": false},
      {"panel": "BR", "ser": "purple", "r": 7.75, "xlo": 5.5, "xhi": 10, "s": 3.45e36, "elo": 1.66e36, "ehi": 5.24e36, "lim": false},
      {"panel": "BR", "ser": "purple", "r": 15, "xlo": 10, "xhi": 20, "s": 2.77e36, "elo": 2.77e36, "ehi": 8.59e36, "lim": true},
      {"panel": "BR", "ser": "purple", "r": 30, "xlo": 20, "xhi": 40, "s": 1.94e36, "elo": 3.66e35, "ehi": 3.45e36, "lim": false},
      {"panel": "BR", "ser": "purple", "r": 50, "xlo": 40, "xhi": 60, "s": 1.3e36, "elo": 8.8e35, "ehi": 1.72e36, "lim": false},
      {"panel": "BR", "ser": "purple", "r": 80, "xlo": 60, "xhi": 100, "s": 1.09e35, "elo": 1.09e35, "ehi": 1.31e36, "lim": true},
      {"panel": "BR", "ser": "purple", "r": 125, "xlo": 100, "xhi": 150, "s": 5.87e35, "elo": 4.72e35, "ehi": 7.08e35, "lim": false}
    ],
    "notes": [
      {"panel": "TL", "r": 6.0, "s": 3.66e34, "label": "log(sSFR) > -10.20"},
      {"panel": "TR", "r": 6.0, "s": 3.66e34, "label": "log(sSFR) > -10.62"},
      {"panel": "BL", "r": 6.0, "s": 3.66e34, "label": "log(sSFR) < -11.56"},
      {"panel": "BR", "r": 6.0, "s": 3.66e34, "label": "log(sSFR) < -12.42"}
    ]
  },
  "vconcat": [
    {
      "hconcat": [
        {
          "width": 814,
          "height": 518,
          "title": "10¹⁰·² − 10¹⁰·⁷M⊙",
          "resolve": {"axis": {"x": "independent", "y": "independent"}},
          "layer": [
            {"data": {"name": "bands"}, "transform": [{"filter": "datum.panel == 'TL' && datum.sim == 'EAGLE'"}],
             "mark": {"type": "area", "clip": true, "fillOpacity": 0.5, "strokeOpacity": 0.75, "strokeWidth": 1.5},
             "encoding": {
               "x": {"field": "r", "type": "quantitative", "scale": {"type": "log", "domain": [5.5, 182], "nice": false},
                     "axis": {"orient": "bottom", "values": [10, 100], "labels": false, "title": null, "tickSize": 8}},
               "y": {"field": "lo", "type": "quantitative", "scale": {"type": "log", "domain": [2e34, 4e37], "nice": false},
                     "axis": {"orient": "left", "values": [1e35, 1e36, 1e37],
                              "labelExpr": "datum.value == 1e35 ? '10³⁵' : datum.value == 1e36 ? '10³⁶' : '10³⁷'",
                              "title": "Σₓ (erg/s/kpc²)", "titlePadding": 23, "tickSize": 8}},
               "y2": {"field": "hi"},
               "color": {"field": "sim", "type": "nominal", "scale": {"domain": ["EAGLE", "TNG"], "range": ["#ff7f0e", "#2ca02c"]},
                         "legend": {"orient": "top-right", "offset": 10, "title": null}},
               "stroke": {"field": "sim", "type": "nominal", "scale": {"domain": ["EAGLE", "TNG"], "range": ["#ff7f0e", "#2ca02c"]},
                          "legend": {"orient": "top-right", "offset": 10, "title": null}}
             }},
            {"data": {"name": "bands"}, "transform": [{"filter": "datum.panel == 'TL' && datum.sim == 'TNG'"}],
             "mark": {"type": "area", "clip": true, "fillOpacity": 0.55, "strokeOpacity": 0.75, "strokeWidth": 1.5},
             "encoding": {
               "x": {"field": "r", "type": "quantitative", "scale": {"type": "log", "domain": [5.5, 182], "nice": false},
                     "axis": {"orient": "bottom", "values": [6, 7, 8, 9, 20, 30, 40, 50, 60, 70, 80, 90], "labels": false, "title": null, "tickSize": 4.5}},
               "y": {"field": "lo", "type": "quantitative", "scale": {"type": "log", "domain": [2e34, 4e37], "nice": false},
                     "axis": {"orient": "left", "values": [3e34, 4e34, 5e34, 6e34, 7e34, 8e34, 9e34, 2e35, 3e35, 4e35, 5e35, 6e35, 7e35, 8e35, 9e35, 2e36, 3e36, 4e36, 5e36, 6e36, 7e36, 8e36, 9e36, 2e37, 3e37],
                              "labels": false, "title": null, "tickSize": 4.5}},
               "y2": {"field": "hi"},
               "color": {"field": "sim", "type": "nominal", "scale": {"domain": ["EAGLE", "TNG"], "range": ["#ff7f0e", "#2ca02c"]},
                         "legend": {"orient": "top-right", "offset": 10, "title": null}},
               "stroke": {"field": "sim", "type": "nominal", "scale": {"domain": ["EAGLE", "TNG"], "range": ["#ff7f0e", "#2ca02c"]},
                          "legend": {"orient": "top-right", "offset": 10, "title": null}}
             }},
            {"data": {"name": "curves"}, "transform": [{"filter": "datum.panel == 'TL' && datum.kind == 'solid'"}],
             "mark": {"type": "line", "clip": true, "color": "#808080", "strokeWidth": 3.5},
             "encoding": {
               "x": {"field": "r", "type": "quantitative", "scale": {"type": "log", "domain": [5.5, 182], "nice": false}, "axis": null},
               "y": {"field": "s", "type": "quantitative", "scale": {"type": "log", "domain": [2e34, 4e37], "nice": false}, "axis": null}
             }},
            {"data": {"name": "curves"}, "transform": [{"filter": "datum.panel == 'TL' && datum.kind == 'dotted'"}],
             "mark": {"type": "line", "clip": true, "color": "#555555", "strokeWidth": 3.5, "strokeDash": [3.5, 5]},
             "encoding": {
               "x": {"field": "r", "type": "quantitative", "scale": {"type": "log", "domain": [5.5, 182], "nice": false}, "axis": null},
               "y": {"field": "s", "type": "quantitative", "scale": {"type": "log", "domain": [2e34, 4e37], "nice": false}, "axis": null}
             }},
            {"data": {"name": "hlines"}, "transform": [{"filter": "datum.panel == 'TL' && datum.kind == 'solid'"}],
             "mark": {"type": "rule", "color": "#8c8c8c", "strokeWidth": 3.5},
             "encoding": {"y": {"field": "s", "type": "quantitative", "scale": {"type": "log", "domain": [2e34, 4e37], "nice": false}, "axis": null}}},
            {"data": {"name": "hlines"}, "transform": [{"filter": "datum.panel == 'TL' && datum.kind == 'dotted'"}],
             "mark": {"type": "rule", "color": "#8c8c8c", "strokeWidth": 3.5, "strokeDash": [3.5, 5]},
             "encoding": {"y": {"field": "s", "type": "quantitative", "scale": {"type": "log", "domain": [2e34, 4e37], "nice": false}, "axis": null}}},
            {"data": {"name": "pts"}, "transform": [{"filter": "datum.panel == 'TL' && datum.ser == 'black'"}],
             "mark": {"type": "rule", "clip": true, "color": "#000000", "strokeWidth": 5},
             "encoding": {
               "x": {"field": "xlo", "type": "quantitative", "scale": {"type": "log", "domain": [5.5, 182], "nice": false}, "axis": null},
               "x2": {"field": "xhi"},
               "y": {"field": "s", "type": "quantitative", "scale": {"type": "log", "domain": [2e34, 4e37], "nice": false}, "axis": null},
               "opacity": {"condition": {"test": "datum.r > 100", "value": 0.6}, "value": 1}
             }},
            {"data": {"name": "pts"}, "transform": [{"filter": "datum.panel == 'TL' && datum.ser == 'black'"}],
             "mark": {"type": "rule", "clip": true, "color": "#000000", "strokeWidth": 5},
             "encoding": {
               "x": {"field": "r", "type": "quantitative", "scale": {"type": "log", "domain": [5.5, 182], "nice": false}, "axis": null},
               "y": {"field": "elo", "type": "quantitative", "scale": {"type": "log", "domain": [2e34, 4e37], "nice": false}, "axis": null},
               "y2": {"field": "ehi"},
               "opacity": {"condition": {"test": "datum.r > 100", "value": 0.6}, "value": 1}
             }},
            {"data": {"name": "pts"}, "transform": [{"filter": "datum.panel == 'TL' && datum.ser == 'black'"}],
             "mark": {"type": "point", "filled": true, "clip": true, "color": "#000000", "size": 330, "strokeWidth": 0},
             "encoding": {
               "x": {"field": "r", "type": "quantitative", "scale": {"type": "log", "domain": [5.5, 182], "nice": false}, "axis": null},
               "y": {"field": "s", "type": "quantitative", "scale": {"type": "log", "domain": [2e34, 4e37], "nice": false}, "axis": null},
               "shape": {"condition": {"test": "datum.lim", "value": "triangle-down"}, "value": "circle"},
               "opacity": {"condition": {"test": "datum.r > 100", "value": 0.6}, "value": 1}
             }},
            {"data": {"name": "pts"}, "transform": [{"filter": "datum.panel == 'TL' && datum.ser == 'purple'"}],
             "mark": {"type": "rule", "clip": true, "color": "#9467bd", "strokeWidth": 5},
             "encoding": {
               "x": {"field": "xlo", "type": "quantitative", "scale": {"type": "log", "domain": [5.5, 182], "nice": false}, "axis": null},
               "x2": {"field": "xhi"},
               "y": {"field": "s", "type": "quantitative", "scale": {"type": "log", "domain": [2e34, 4e37], "nice": false}, "axis": null},
               "opacity": {"condition": {"test": "datum.r > 100", "value": 0.6}, "value": 1}
             }},
            {"data": {"name": "pts"}, "transform": [{"filter": "datum.panel == 'TL' && datum.ser == 'purple'"}],
             "mark": {"type": "rule", "clip": true, "color": "#9467bd", "strokeWidth": 5},
             "encoding": {
               "x": {"field": "r", "type": "quantitative", "scale": {"type": "log", "domain": [5.5, 182], "nice": false}, "axis": null},
               "y": {"field": "elo", "type": "quantitative", "scale": {"type": "log", "domain": [2e34, 4e37], "nice": false}, "axis": null},
               "y2": {"field": "ehi"},
               "opacity": {"condition": {"test": "datum.r > 100", "value": 0.6}, "value": 1}
             }},
            {"data": {"name": "pts"}, "transform": [{"filter": "datum.panel == 'TL' && datum.ser == 'purple'"}],
             "mark": {"type": "point", "filled": true, "clip": true, "color": "#9467bd", "size": 330, "strokeWidth": 0},
             "encoding": {
               "x": {"field": "r", "type": "quantitative", "scale": {"type": "log", "domain": [5.5, 182], "nice": false}, "axis": null},
               "y": {"field": "s", "type": "quantitative", "scale": {"type": "log", "domain": [2e34, 4e37], "nice": false}, "axis": null},
               "shape": {"condition": {"test": "datum.lim", "value": "triangle-down"}, "value": "circle"},
               "opacity": {"condition": {"test": "datum.r > 100", "value": 0.6}, "value": 1}
             }},
            {"data": {"name": "pts"}, "transform": [{"filter": "datum.panel == 'TL' && datum.ser == 'blue'"}],
             "mark": {"type": "rule", "clip": true, "color": "#1f77b4", "strokeWidth": 5},
             "encoding": {
               "x": {"field": "xlo", "type": "quantitative", "scale": {"type": "log", "domain": [5.5, 182], "nice": false}, "axis": null},
               "x2": {"field": "xhi"},
               "y": {"field": "s", "type": "quantitative", "scale": {"type": "log", "domain": [2e34, 4e37], "nice": false}, "axis": null},
               "opacity": {"condition": {"test": "datum.r > 100", "value": 0.6}, "value": 1}
             }},
            {"data": {"name": "pts"}, "transform": [{"filter": "datum.panel == 'TL' && datum.ser == 'blue'"}],
             "mark": {"type": "rule", "clip": true, "color": "#1f77b4", "strokeWidth": 5},
             "encoding": {
               "x": {"field": "r", "type": "quantitative", "scale": {"type": "log", "domain": [5.5, 182], "nice": false}, "axis": null},
               "y": {"field": "elo", "type": "quantitative", "scale": {"type": "log", "domain": [2e34, 4e37], "nice": false}, "axis": null},
               "y2": {"field": "ehi"},
               "opacity": {"condition": {"test": "datum.r > 100", "value": 0.6}, "value": 1}
             }},
            {"data": {"name": "pts"}, "transform": [{"filter": "datum.panel == 'TL' && datum.ser == 'blue'"}],
             "mark": {"type": "point", "filled": true, "clip": true, "color": "#1f77b4", "size": 330, "strokeWidth": 0},
             "encoding": {
               "x": {"field": "r", "type": "quantitative", "scale": {"type": "log", "domain": [5.5, 182], "nice": false}, "axis": null},
               "y": {"field": "s", "type": "quantitative", "scale": {"type": "log", "domain": [2e34, 4e37], "nice": false}, "axis": null},
               "shape": {"condition": {"test": "datum.lim", "value": "triangle-down"}, "value": "circle"},
               "opacity": {"condition": {"test": "datum.r > 100", "value": 0.6}, "value": 1}
             }},
            {"data": {"name": "notes"}, "transform": [{"filter": "datum.panel == 'TL'"}],
             "mark": {"type": "text", "font": "Liberation Serif", "fontSize": 34, "align": "left", "baseline": "alphabetic", "color": "#000000"},
             "encoding": {
               "x": {"field": "r", "type": "quantitative", "scale": {"type": "log", "domain": [5.5, 182], "nice": false}, "axis": null},
               "y": {"field": "s", "type": "quantitative", "scale": {"type": "log", "domain": [2e34, 4e37], "nice": false}, "axis": null},
               "text": {"field": "label"}
             }}
          ]
        },
        {
          "width": 814,
          "height": 518,
          "title": "10¹⁰·⁷ − 10¹¹·²M⊙",
          "resolve": {"axis": {"x": "independent", "y": "independent"}},
          "layer": [
            {"data": {"name": "bands"}, "transform": [{"filter": "datum.panel == 'TR' && datum.sim == 'EAGLE'"}],
             "mark": {"type": "area", "clip": true, "fillOpacity": 0.5, "strokeOpacity": 0.75, "strokeWidth": 1.5},
             "encoding": {
               "x": {"field": "r", "type": "quantitative", "scale": {"type": "log", "domain": [5.5, 182], "nice": false},
                     "axis": {"orient": "bottom", "values": [10, 100], "labels": false, "title": null, "tickSize": 8}},
               "y": {"field": "lo", "type": "quantitative", "scale": {"type": "log", "domain": [2e34, 4e37], "nice": false},
                     "axis": {"orient": "left", "values": [1e35, 1e36, 1e37], "labels": false, "title": null, "tickSize": 8}},
               "y2": {"field": "hi"},
               "color": {"field": "sim", "type": "nominal", "scale": {"domain": ["EAGLE", "TNG"], "range": ["#ff7f0e", "#2ca02c"]}, "legend": null},
               "stroke": {"field": "sim", "type": "nominal", "scale": {"domain": ["EAGLE", "TNG"], "range": ["#ff7f0e", "#2ca02c"]}, "legend": null}
             }},
            {"data": {"name": "bands"}, "transform": [{"filter": "datum.panel == 'TR' && datum.sim == 'TNG'"}],
             "mark": {"type": "area", "clip": true, "fillOpacity": 0.55, "strokeOpacity": 0.75, "strokeWidth": 1.5},
             "encoding": {
               "x": {"field": "r", "type": "quantitative", "scale": {"type": "log", "domain": [5.5, 182], "nice": false},
                     "axis": {"orient": "bottom", "values": [6, 7, 8, 9, 20, 30, 40, 50, 60, 70, 80, 90], "labels": false, "title": null, "tickSize": 4.5}},
               "y": {"field": "lo", "type": "quantitative", "scale": {"type": "log", "domain": [2e34, 4e37], "nice": false},
                     "axis": {"orient": "left", "values": [3e34, 4e34, 5e34, 6e34, 7e34, 8e34, 9e34, 2e35, 3e35, 4e35, 5e35, 6e35, 7e35, 8e35, 9e35, 2e36, 3e36, 4e36, 5e36, 6e36, 7e36, 8e36, 9e36, 2e37, 3e37],
                              "labels": false, "title": null, "tickSize": 4.5}},
               "y2": {"field": "hi"},
               "color": {"field": "sim", "type": "nominal", "scale": {"domain": ["EAGLE", "TNG"], "range": ["#ff7f0e", "#2ca02c"]}, "legend": null},
               "stroke": {"field": "sim", "type": "nominal", "scale": {"domain": ["EAGLE", "TNG"], "range": ["#ff7f0e", "#2ca02c"]}, "legend": null}
             }},
            {"data": {"name": "curves"}, "transform": [{"filter": "datum.panel == 'TR' && datum.kind == 'solid'"}],
             "mark": {"type": "line", "clip": true, "color": "#808080", "strokeWidth": 3.5},
             "encoding": {
               "x": {"field": "r", "type": "quantitative", "scale": {"type": "log", "domain": [5.5, 182], "nice": false}, "axis": null},
               "y": {"field": "s", "type": "quantitative", "scale": {"type": "log", "domain": [2e34, 4e37], "nice": false}, "axis": null}
             }},
            {"data": {"name": "curves"}, "transform": [{"filter": "datum.panel == 'TR' && datum.kind == 'dotted'"}],
             "mark": {"type": "line", "clip": true, "color": "#555555", "strokeWidth": 3.5, "strokeDash": [3.5, 5]},
             "encoding": {
               "x": {"field": "r", "type": "quantitative", "scale": {"type": "log", "domain": [5.5, 182], "nice": false}, "axis": null},
               "y": {"field": "s", "type": "quantitative", "scale": {"type": "log", "domain": [2e34, 4e37], "nice": false}, "axis": null}
             }},
            {"data": {"name": "hlines"}, "transform": [{"filter": "datum.panel == 'TR' && datum.kind == 'solid'"}],
             "mark": {"type": "rule", "color": "#8c8c8c", "strokeWidth": 3.5},
             "encoding": {"y": {"field": "s", "type": "quantitative", "scale": {"type": "log", "domain": [2e34, 4e37], "nice": false}, "axis": null}}},
            {"data": {"name": "hlines"}, "transform": [{"filter": "datum.panel == 'TR' && datum.kind == 'dotted'"}],
             "mark": {"type": "rule", "color": "#8c8c8c", "strokeWidth": 3.5, "strokeDash": [3.5, 5]},
             "encoding": {"y": {"field": "s", "type": "quantitative", "scale": {"type": "log", "domain": [2e34, 4e37], "nice": false}, "axis": null}}},
            {"data": {"name": "pts"}, "transform": [{"filter": "datum.panel == 'TR' && datum.ser == 'black'"}],
             "mark": {"type": "rule", "clip": true, "color": "#000000", "strokeWidth": 5},
             "encoding": {
               "x": {"field": "xlo", "type": "quantitative", "scale": {"type": "log", "domain": [5.5, 182], "nice": false}, "axis": null},
               "x2": {"field": "xhi"},
               "y": {"field": "s", "type": "quantitative", "scale": {"type": "log", "domain": [2e34, 4e37], "nice": false}, "axis": null},
               "opacity": {"condition": {"test": "datum.r == 80", "value": 0.6}, "value": 1}
             }},
            {"data": {"name": "pts"}, "transform": [{"filter": "datum.panel == 'TR' && datum.ser == 'black'"}],
             "mark": {"type": "rule", "clip": true, "color": "#000000", "strokeWidth": 5},
             "encoding": {
               "x": {"field": "r", "type": "quantitative", "scale": {"type": "log", "domain": [5.5, 182], "nice": false}, "axis": null},
               "y": {"field": "elo", "type": "quantitative", "scale": {"type": "log", "domain": [2e34, 4e37], "nice": false}, "axis": null},
               "y2": {"field": "ehi"},
               "opacity": {"condition": {"test": "datum.r == 80", "value": 0.6}, "value": 1}
             }},
            {"data": {"name": "pts"}, "transform": [{"filter": "datum.panel == 'TR' && datum.ser == 'black'"}],
             "mark": {"type": "point", "filled": true, "clip": true, "color": "#000000", "size": 330, "strokeWidth": 0},
             "encoding": {
               "x": {"field": "r", "type": "quantitative", "scale": {"type": "log", "domain": [5.5, 182], "nice": false}, "axis": null},
               "y": {"field": "s", "type": "quantitative", "scale": {"type": "log", "domain": [2e34, 4e37], "nice": false}, "axis": null},
               "shape": {"condition": {"test": "datum.lim", "value": "triangle-down"}, "value": "circle"},
               "opacity": {"condition": {"test": "datum.r == 80", "value": 0.6}, "value": 1}
             }},
            {"data": {"name": "pts"}, "transform": [{"filter": "datum.panel == 'TR' && datum.ser == 'purple'"}],
             "mark": {"type": "rule", "clip": true, "color": "#9467bd", "strokeWidth": 5},
             "encoding": {
               "x": {"field": "xlo", "type": "quantitative", "scale": {"type": "log", "domain": [5.5, 182], "nice": false}, "axis": null},
               "x2": {"field": "xhi"},
               "y": {"field": "s", "type": "quantitative", "scale": {"type": "log", "domain": [2e34, 4e37], "nice": false}, "axis": null},
               "opacity": {"condition": {"test": "datum.r == 80", "value": 0.6}, "value": 1}
             }},
            {"data": {"name": "pts"}, "transform": [{"filter": "datum.panel == 'TR' && datum.ser == 'purple'"}],
             "mark": {"type": "rule", "clip": true, "color": "#9467bd", "strokeWidth": 5},
             "encoding": {
               "x": {"field": "r", "type": "quantitative", "scale": {"type": "log", "domain": [5.5, 182], "nice": false}, "axis": null},
               "y": {"field": "elo", "type": "quantitative", "scale": {"type": "log", "domain": [2e34, 4e37], "nice": false}, "axis": null},
               "y2": {"field": "ehi"},
               "opacity": {"condition": {"test": "datum.r == 80", "value": 0.6}, "value": 1}
             }},
            {"data": {"name": "pts"}, "transform": [{"filter": "datum.panel == 'TR' && datum.ser == 'purple'"}],
             "mark": {"type": "point", "filled": true, "clip": true, "color": "#9467bd", "size": 330, "strokeWidth": 0},
             "encoding": {
               "x": {"field": "r", "type": "quantitative", "scale": {"type": "log", "domain": [5.5, 182], "nice": false}, "axis": null},
               "y": {"field": "s", "type": "quantitative", "scale": {"type": "log", "domain": [2e34, 4e37], "nice": false}, "axis": null},
               "shape": {"condition": {"test": "datum.lim", "value": "triangle-down"}, "value": "circle"},
               "opacity": {"condition": {"test": "datum.r == 80", "value": 0.6}, "value": 1}
             }},
            {"data": {"name": "pts"}, "transform": [{"filter": "datum.panel == 'TR' && datum.ser == 'blue'"}],
             "mark": {"type": "rule", "clip": true, "color": "#1f77b4", "strokeWidth": 5},
             "encoding": {
               "x": {"field": "xlo", "type": "quantitative", "scale": {"type": "log", "domain": [5.5, 182], "nice": false}, "axis": null},
               "x2": {"field": "xhi"},
               "y": {"field": "s", "type": "quantitative", "scale": {"type": "log", "domain": [2e34, 4e37], "nice": false}, "axis": null},
               "opacity": {"condition": {"test": "datum.r == 80", "value": 0.6}, "value": 1}
             }},
            {"data": {"name": "pts"}, "transform": [{"filter": "datum.panel == 'TR' && datum.ser == 'blue'"}],
             "mark": {"type": "rule", "clip": true, "color": "#1f77b4", "strokeWidth": 5},
             "encoding": {
               "x": {"field": "r", "type": "quantitative", "scale": {"type": "log", "domain": [5.5, 182], "nice": false}, "axis": null},
               "y": {"field": "elo", "type": "quantitative", "scale": {"type": "log", "domain": [2e34, 4e37], "nice": false}, "axis": null},
               "y2": {"field": "ehi"},
               "opacity": {"condition": {"test": "datum.r == 80", "value": 0.6}, "value": 1}
             }},
            {"data": {"name": "pts"}, "transform": [{"filter": "datum.panel == 'TR' && datum.ser == 'blue'"}],
             "mark": {"type": "point", "filled": true, "clip": true, "color": "#1f77b4", "size": 330, "strokeWidth": 0},
             "encoding": {
               "x": {"field": "r", "type": "quantitative", "scale": {"type": "log", "domain": [5.5, 182], "nice": false}, "axis": null},
               "y": {"field": "s", "type": "quantitative", "scale": {"type": "log", "domain": [2e34, 4e37], "nice": false}, "axis": null},
               "shape": {"condition": {"test": "datum.lim", "value": "triangle-down"}, "value": "circle"},
               "opacity": {"condition": {"test": "datum.r == 80", "value": 0.6}, "value": 1}
             }},
            {"data": {"name": "notes"}, "transform": [{"filter": "datum.panel == 'TR'"}],
             "mark": {"type": "text", "font": "Liberation Serif", "fontSize": 34, "align": "left", "baseline": "alphabetic", "color": "#000000"},
             "encoding": {
               "x": {"field": "r", "type": "quantitative", "scale": {"type": "log", "domain": [5.5, 182], "nice": false}, "axis": null},
               "y": {"field": "s", "type": "quantitative", "scale": {"type": "log", "domain": [2e34, 4e37], "nice": false}, "axis": null},
               "text": {"field": "label"}
             }}
          ]
        }
      ],
      "spacing": 41,
      "resolve": {"scale": {"x": "independent", "y": "independent", "color": "independent", "stroke": "independent"},
                  "axis": {"x": "independent", "y": "independent"},
                  "legend": {"color": "independent", "stroke": "independent"}}
    },
    {
      "hconcat": [
        {
          "width": 814,
          "height": 518,
          "resolve": {"axis": {"x": "independent", "y": "independent"}},
          "layer": [
            {"data": {"name": "bands"}, "transform": [{"filter": "datum.panel == 'BL' && datum.sim == 'EAGLE'"}],
             "mark": {"type": "area", "clip": true, "fillOpacity": 0.5, "strokeOpacity": 0.75, "strokeWidth": 1.5},
             "encoding": {
               "x": {"field": "r", "type": "quantitative", "scale": {"type": "log", "domain": [5.5, 182], "nice": false},
                     "axis": {"orient": "bottom", "values": [10, 100],
                              "labelExpr": "datum.value == 10 ? '10¹' : '10²'", "labelPadding": 12,
                              "title": "R (kpc)", "titlePadding": 2, "tickSize": 8}},
               "y": {"field": "lo", "type": "quantitative", "scale": {"type": "log", "domain": [2e34, 4e37], "nice": false},
                     "axis": {"orient": "left", "values": [1e35, 1e36, 1e37],
                              "labelExpr": "datum.value == 1e35 ? '10³⁵' : datum.value == 1e36 ? '10³⁶' : '10³⁷'",
                              "title": "Σₓ (erg/s/kpc²)", "titlePadding": 23, "tickSize": 8}},
               "y2": {"field": "hi"},
               "color": {"field": "sim", "type": "nominal", "scale": {"domain": ["EAGLE", "TNG"], "range": ["#ff7f0e", "#2ca02c"]},
                         "legend": {"orient": "top-right", "offset": 10, "title": null}},
               "stroke": {"field": "sim", "type": "nominal", "scale": {"domain": ["EAGLE", "TNG"], "range": ["#ff7f0e", "#2ca02c"]},
                          "legend": {"orient": "top-right", "offset": 10, "title": null}}
             }},
            {"data": {"name": "bands"}, "transform": [{"filter": "datum.panel == 'BL' && datum.sim == 'TNG'"}],
             "mark": {"type": "area", "clip": true, "fillOpacity": 0.55, "strokeOpacity": 0.75, "strokeWidth": 1.5},
             "encoding": {
               "x": {"field": "r", "type": "quantitative", "scale": {"type": "log", "domain": [5.5, 182], "nice": false},
                     "axis": {"orient": "bottom", "values": [6, 7, 8, 9, 20, 30, 40, 50, 60, 70, 80, 90], "labels": false, "title": null, "tickSize": 4.5}},
               "y": {"field": "lo", "type": "quantitative", "scale": {"type": "log", "domain": [2e34, 4e37], "nice": false},
                     "axis": {"orient": "left", "values": [3e34, 4e34, 5e34, 6e34, 7e34, 8e34, 9e34, 2e35, 3e35, 4e35, 5e35, 6e35, 7e35, 8e35, 9e35, 2e36, 3e36, 4e36, 5e36, 6e36, 7e36, 8e36, 9e36, 2e37, 3e37],
                              "labels": false, "title": null, "tickSize": 4.5}},
               "y2": {"field": "hi"},
               "color": {"field": "sim", "type": "nominal", "scale": {"domain": ["EAGLE", "TNG"], "range": ["#ff7f0e", "#2ca02c"]},
                         "legend": {"orient": "top-right", "offset": 10, "title": null}},
               "stroke": {"field": "sim", "type": "nominal", "scale": {"domain": ["EAGLE", "TNG"], "range": ["#ff7f0e", "#2ca02c"]},
                          "legend": {"orient": "top-right", "offset": 10, "title": null}}
             }},
            {"data": {"name": "curves"}, "transform": [{"filter": "datum.panel == 'BL' && datum.kind == 'solid'"}],
             "mark": {"type": "line", "clip": true, "color": "#808080", "strokeWidth": 3.5},
             "encoding": {
               "x": {"field": "r", "type": "quantitative", "scale": {"type": "log", "domain": [5.5, 182], "nice": false}, "axis": null},
               "y": {"field": "s", "type": "quantitative", "scale": {"type": "log", "domain": [2e34, 4e37], "nice": false}, "axis": null}
             }},
            {"data": {"name": "curves"}, "transform": [{"filter": "datum.panel == 'BL' && datum.kind == 'dotted'"}],
             "mark": {"type": "line", "clip": true, "color": "#333333", "strokeWidth": 3.5, "strokeDash": [3.5, 5]},
             "encoding": {
               "x": {"field": "r", "type": "quantitative", "scale": {"type": "log", "domain": [5.5, 182], "nice": false}, "axis": null},
               "y": {"field": "s", "type": "quantitative", "scale": {"type": "log", "domain": [2e34, 4e37], "nice": false}, "axis": null}
             }},
            {"data": {"name": "hlines"}, "transform": [{"filter": "datum.panel == 'BL' && datum.kind == 'solid'"}],
             "mark": {"type": "rule", "color": "#8c8c8c", "strokeWidth": 3.5},
             "encoding": {"y": {"field": "s", "type": "quantitative", "scale": {"type": "log", "domain": [2e34, 4e37], "nice": false}, "axis": null}}},
            {"data": {"name": "hlines"}, "transform": [{"filter": "datum.panel == 'BL' && datum.kind == 'dotted'"}],
             "mark": {"type": "rule", "color": "#8c8c8c", "strokeWidth": 3.5, "strokeDash": [3.5, 5]},
             "encoding": {"y": {"field": "s", "type": "quantitative", "scale": {"type": "log", "domain": [2e34, 4e37], "nice": false}, "axis": null}}},
            {"data": {"name": "pts"}, "transform": [{"filter": "datum.panel == 'BL' && datum.ser == 'black'"}],
             "mark": {"type": "rule", "clip": true, "color": "#000000", "strokeWidth": 5},
             "encoding": {
               "x": {"field": "xlo", "type": "quantitative", "scale": {"type": "log", "domain": [5.5, 182], "nice": false}, "axis": null},
               "x2": {"field": "xhi"},
               "y": {"field": "s", "type": "quantitative", "scale": {"type": "log", "domain": [2e34, 4e37], "nice": false}, "axis": null},
               "opacity": {"condition": {"test": "datum.r > 100", "value": 0.6}, "value": 1}
             }},
            {"data": {"name": "pts"}, "transform": [{"filter": "datum.panel == 'BL' && datum.ser == 'black'"}],
             "mark": {"type": "rule", "clip": true, "color": "#000000", "strokeWidth": 5},
             "encoding": {
               "x": {"field": "r", "type": "quantitative", "scale": {"type": "log", "domain": [5.5, 182], "nice": false}, "axis": null},
               "y": {"field": "elo", "type": "quantitative", "scale": {"type": "log", "domain": [2e34, 4e37], "nice": false}, "axis": null},
               "y2": {"field": "ehi"},
               "opacity": {"condition": {"test": "datum.r > 100", "value": 0.6}, "value": 1}
             }},
            {"data": {"name": "pts"}, "transform": [{"filter": "datum.panel == 'BL' && datum.ser == 'black'"}],
             "mark": {"type": "point", "filled": true, "clip": true, "color": "#000000", "size": 330, "strokeWidth": 0},
             "encoding": {
               "x": {"field": "r", "type": "quantitative", "scale": {"type": "log", "domain": [5.5, 182], "nice": false}, "axis": null},
               "y": {"field": "s", "type": "quantitative", "scale": {"type": "log", "domain": [2e34, 4e37], "nice": false}, "axis": null},
               "shape": {"condition": {"test": "datum.lim", "value": "triangle-down"}, "value": "circle"},
               "opacity": {"condition": {"test": "datum.r > 100", "value": 0.6}, "value": 1}
             }},
            {"data": {"name": "pts"}, "transform": [{"filter": "datum.panel == 'BL' && datum.ser == 'purple'"}],
             "mark": {"type": "rule", "clip": true, "color": "#9467bd", "strokeWidth": 5},
             "encoding": {
               "x": {"field": "xlo", "type": "quantitative", "scale": {"type": "log", "domain": [5.5, 182], "nice": false}, "axis": null},
               "x2": {"field": "xhi"},
               "y": {"field": "s", "type": "quantitative", "scale": {"type": "log", "domain": [2e34, 4e37], "nice": false}, "axis": null},
               "opacity": {"condition": {"test": "datum.r > 100", "value": 0.6}, "value": 1}
             }},
            {"data": {"name": "pts"}, "transform": [{"filter": "datum.panel == 'BL' && datum.ser == 'purple'"}],
             "mark": {"type": "rule", "clip": true, "color": "#9467bd", "strokeWidth": 5},
             "encoding": {
               "x": {"field": "r", "type": "quantitative", "scale": {"type": "log", "domain": [5.5, 182], "nice": false}, "axis": null},
               "y": {"field": "elo", "type": "quantitative", "scale": {"type": "log", "domain": [2e34, 4e37], "nice": false}, "axis": null},
               "y2": {"field": "ehi"},
               "opacity": {"condition": {"test": "datum.r > 100", "value": 0.6}, "value": 1}
             }},
            {"data": {"name": "pts"}, "transform": [{"filter": "datum.panel == 'BL' && datum.ser == 'purple'"}],
             "mark": {"type": "point", "filled": true, "clip": true, "color": "#9467bd", "size": 330, "strokeWidth": 0},
             "encoding": {
               "x": {"field": "r", "type": "quantitative", "scale": {"type": "log", "domain": [5.5, 182], "nice": false}, "axis": null},
               "y": {"field": "s", "type": "quantitative", "scale": {"type": "log", "domain": [2e34, 4e37], "nice": false}, "axis": null},
               "shape": {"condition": {"test": "datum.lim", "value": "triangle-down"}, "value": "circle"},
               "opacity": {"condition": {"test": "datum.r > 100", "value": 0.6}, "value": 1}
             }},
            {"data": {"name": "notes"}, "transform": [{"filter": "datum.panel == 'BL'"}],
             "mark": {"type": "text", "font": "Liberation Serif", "fontSize": 34, "align": "left", "baseline": "alphabetic", "color": "#000000"},
             "encoding": {
               "x": {"field": "r", "type": "quantitative", "scale": {"type": "log", "domain": [5.5, 182], "nice": false}, "axis": null},
               "y": {"field": "s", "type": "quantitative", "scale": {"type": "log", "domain": [2e34, 4e37], "nice": false}, "axis": null},
               "text": {"field": "label"}
             }}
          ]
        },
        {
          "width": 814,
          "height": 518,
          "resolve": {"axis": {"x": "independent", "y": "independent"}},
          "layer": [
            {"data": {"name": "bands"}, "transform": [{"filter": "datum.panel == 'BR' && datum.sim == 'EAGLE'"}],
             "mark": {"type": "area", "clip": true, "fillOpacity": 0.5, "strokeOpacity": 0.75, "strokeWidth": 1.5},
             "encoding": {
               "x": {"field": "r", "type": "quantitative", "scale": {"type": "log", "domain": [5.5, 182], "nice": false},
                     "axis": {"orient": "bottom", "values": [10, 100],
                              "labelExpr": "datum.value == 10 ? '10¹' : '10²'", "labelPadding": 12,
                              "title": "R (kpc)", "titlePadding": 2, "tickSize": 8}},
               "y": {"field": "lo", "type": "quantitative", "scale": {"type": "log", "domain": [2e34, 4e37], "nice": false},
                     "axis": {"orient": "left", "values": [1e35, 1e36, 1e37], "labels": false, "title": null, "tickSize": 8}},
               "y2": {"field": "hi"},
               "color": {"field": "sim", "type": "nominal", "scale": {"domain": ["EAGLE", "TNG"], "range": ["#ff7f0e", "#2ca02c"]}, "legend": null},
               "stroke": {"field": "sim", "type": "nominal", "scale": {"domain": ["EAGLE", "TNG"], "range": ["#ff7f0e", "#2ca02c"]}, "legend": null}
             }},
            {"data": {"name": "bands"}, "transform": [{"filter": "datum.panel == 'BR' && datum.sim == 'TNG'"}],
             "mark": {"type": "area", "clip": true, "fillOpacity": 0.55, "strokeOpacity": 0.75, "strokeWidth": 1.5},
             "encoding": {
               "x": {"field": "r", "type": "quantitative", "scale": {"type": "log", "domain": [5.5, 182], "nice": false},
                     "axis": {"orient": "bottom", "values": [6, 7, 8, 9, 20, 30, 40, 50, 60, 70, 80, 90], "labels": false, "title": null, "tickSize": 4.5}},
               "y": {"field": "lo", "type": "quantitative", "scale": {"type": "log", "domain": [2e34, 4e37], "nice": false},
                     "axis": {"orient": "left", "values": [3e34, 4e34, 5e34, 6e34, 7e34, 8e34, 9e34, 2e35, 3e35, 4e35, 5e35, 6e35, 7e35, 8e35, 9e35, 2e36, 3e36, 4e36, 5e36, 6e36, 7e36, 8e36, 9e36, 2e37, 3e37],
                              "labels": false, "title": null, "tickSize": 4.5}},
               "y2": {"field": "hi"},
               "color": {"field": "sim", "type": "nominal", "scale": {"domain": ["EAGLE", "TNG"], "range": ["#ff7f0e", "#2ca02c"]}, "legend": null},
               "stroke": {"field": "sim", "type": "nominal", "scale": {"domain": ["EAGLE", "TNG"], "range": ["#ff7f0e", "#2ca02c"]}, "legend": null}
             }},
            {"data": {"name": "curves"}, "transform": [{"filter": "datum.panel == 'BR' && datum.kind == 'solid'"}],
             "mark": {"type": "line", "clip": true, "color": "#808080", "strokeWidth": 3.5},
             "encoding": {
               "x": {"field": "r", "type": "quantitative", "scale": {"type": "log", "domain": [5.5, 182], "nice": false}, "axis": null},
               "y": {"field": "s", "type": "quantitative", "scale": {"type": "log", "domain": [2e34, 4e37], "nice": false}, "axis": null}
             }},
            {"data": {"name": "curves"}, "transform": [{"filter": "datum.panel == 'BR' && datum.kind == 'dotted'"}],
             "mark": {"type": "line", "clip": true, "color": "#333333", "strokeWidth": 3.5, "strokeDash": [3.5, 5]},
             "encoding": {
               "x": {"field": "r", "type": "quantitative", "scale": {"type": "log", "domain": [5.5, 182], "nice": false}, "axis": null},
               "y": {"field": "s", "type": "quantitative", "scale": {"type": "log", "domain": [2e34, 4e37], "nice": false}, "axis": null}
             }},
            {"data": {"name": "hlines"}, "transform": [{"filter": "datum.panel == 'BR' && datum.kind == 'solid'"}],
             "mark": {"type": "rule", "color": "#8c8c8c", "strokeWidth": 3.5},
             "encoding": {"y": {"field": "s", "type": "quantitative", "scale": {"type": "log", "domain": [2e34, 4e37], "nice": false}, "axis": null}}},
            {"data": {"name": "hlines"}, "transform": [{"filter": "datum.panel == 'BR' && datum.kind == 'dotted'"}],
             "mark": {"type": "rule", "color": "#8c8c8c", "strokeWidth": 3.5, "strokeDash": [3.5, 5]},
             "encoding": {"y": {"field": "s", "type": "quantitative", "scale": {"type": "log", "domain": [2e34, 4e37], "nice": false}, "axis": null}}},
            {"data": {"name": "pts"}, "transform": [{"filter": "datum.panel == 'BR' && datum.ser == 'black'"}],
             "mark": {"type": "rule", "clip": true, "color": "#000000", "strokeWidth": 5},
             "encoding": {
               "x": {"field": "xlo", "type": "quantitative", "scale": {"type": "log", "domain": [5.5, 182], "nice": false}, "axis": null},
               "x2": {"field": "xhi"},
               "y": {"field": "s", "type": "quantitative", "scale": {"type": "log", "domain": [2e34, 4e37], "nice": false}, "axis": null}
             }},
            {"data": {"name": "pts"}, "transform": [{"filter": "datum.panel == 'BR' && datum.ser == 'black'"}],
             "mark": {"type": "rule", "clip": true, "color": "#000000", "strokeWidth": 5},
             "encoding": {
               "x": {"field": "r", "type": "quantitative", "scale": {"type": "log", "domain": [5.5, 182], "nice": false}, "axis": null},
               "y": {"field": "elo", "type": "quantitative", "scale": {"type": "log", "domain": [2e34, 4e37], "nice": false}, "axis": null},
               "y2": {"field": "ehi"}
             }},
            {"data": {"name": "pts"}, "transform": [{"filter": "datum.panel == 'BR' && datum.ser == 'black'"}],
             "mark": {"type": "point", "filled": true, "clip": true, "color": "#000000", "size": 330, "strokeWidth": 0},
             "encoding": {
               "x": {"field": "r", "type": "quantitative", "scale": {"type": "log", "domain": [5.5, 182], "nice": false}, "axis": null},
               "y": {"field": "s", "type": "quantitative", "scale": {"type": "log", "domain": [2e34, 4e37], "nice": false}, "axis": null},
               "shape": {"condition": {"test": "datum.lim", "value": "triangle-down"}, "value": "circle"}
             }},
            {"data": {"name": "pts"}, "transform": [{"filter": "datum.panel == 'BR' && datum.ser == 'purple'"}],
             "mark": {"type": "rule", "clip": true, "color": "#9467bd", "strokeWidth": 5},
             "encoding": {
               "x": {"field": "xlo", "type": "quantitative", "scale": {"type": "log", "domain": [5.5, 182], "nice": false}, "axis": null},
               "x2": {"field": "xhi"},
               "y": {"field": "s", "type": "quantitative", "scale": {"type": "log", "domain": [2e34, 4e37], "nice": false}, "axis": null}
             }},
            {"data": {"name": "pts"}, "transform": [{"filter": "datum.panel == 'BR' && datum.ser == 'purple'"}],
             "mark": {"type": "rule", "clip": true, "color": "#9467bd", "strokeWidth": 5},
             "encoding": {
               "x": {"field": "r", "type": "quantitative", "scale": {"type": "log", "domain": [5.5, 182], "nice": false}, "axis": null},
               "y": {"field": "elo", "type": "quantitative", "scale": {"type": "log", "domain": [2e34, 4e37], "nice": false}, "axis": null},
               "y2": {"field": "ehi"}
             }},
            {"data": {"name": "pts"}, "transform": [{"filter": "datum.panel == 'BR' && datum.ser == 'purple'"}],
             "mark": {"type": "point", "filled": true, "clip": true, "color": "#9467bd", "size": 330, "strokeWidth": 0},
             "encoding": {
               "x": {"field": "r", "type": "quantitative", "scale": {"type": "log", "domain": [5.5, 182], "nice": false}, "axis": null},
               "y": {"field": "s", "type": "quantitative", "scale": {"type": "log", "domain": [2e34, 4e37], "nice": false}, "axis": null},
               "shape": {"condition": {"test": "datum.lim", "value": "triangle-down"}, "value": "circle"}
             }},
            {"data": {"name": "notes"}, "transform": [{"filter": "datum.panel == 'BR'"}],
             "mark": {"type": "text", "font": "Liberation Serif", "fontSize": 34, "align": "left", "baseline": "alphabetic", "color": "#000000"},
             "encoding": {
               "x": {"field": "r", "type": "quantitative", "scale": {"type": "log", "domain": [5.5, 182], "nice": false}, "axis": null},
               "y": {"field": "s", "type": "quantitative", "scale": {"type": "log", "domain": [2e34, 4e37], "nice": false}, "axis": null},
               "text": {"field": "label"}
             }}
          ]
        }
      ],
      "spacing": 41,
      "resolve": {"scale": {"x": "independent", "y": "independent", "color": "independent", "stroke": "independent"},
                  "axis": {"x": "independent", "y": "independent"},
                  "legend": {"color": "independent", "stroke": "independent"}}
    }
  ],
  "spacing": 18,
  "resolve": {"scale": {"color": "independent", "stroke": "independent"},
              "legend": {"color": "independent", "stroke": "independent"}},
  "config": {
    "font": "DejaVu Sans",
    "view": {"stroke": "#000000", "strokeWidth": 1.6},
    "axis": {"grid": false, "domain": false, "tickColor": "#000000", "tickWidth": 1.5,
             "labelFont": "Liberation Serif", "labelFontSize": 28, "labelColor": "#000000", "labelPadding": 6,
             "labelOverlap": false, "labelFlush": false,
             "titleFont": "DejaVu Sans", "titleFontSize": 30, "titleFontWeight": "normal", "titleColor": "#000000"},
    "title": {"font": "DejaVu Sans", "fontSize": 31, "fontWeight": "normal", "color": "#000000", "offset": 6},
    "legend": {"fillColor": "white", "strokeColor": "#cccccc", "cornerRadius": 5, "padding": 9,
               "labelFont": "DejaVu Sans", "labelFontSize": 20, "labelColor": "#000000",
               "symbolType": "M-2,-0.7H2V0.7H-2Z", "symbolSize": 480, "symbolOpacity": 0.4, "symbolStrokeWidth": 1.5,
               "rowPadding": 7, "labelOffset": 26, "symbolOffset": 11}
  }
}
